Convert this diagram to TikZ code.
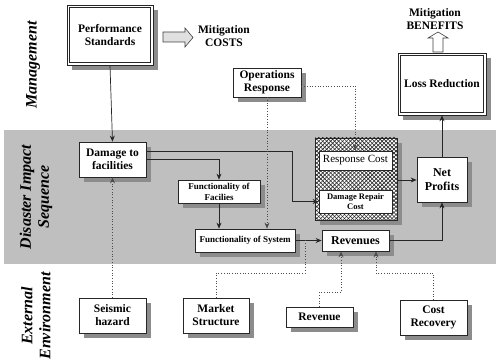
\documentclass[tikz,border=0pt]{standalone}
\usepackage{fontspec}
\setmainfont{Liberation Serif}
\usetikzlibrary{arrows.meta,shadows,patterns.meta,calc}

\begin{document}
\begin{tikzpicture}[x=1pt,y=-1pt,
  shadowed/.style={drop shadow={shadow xshift=5pt,shadow yshift=-5pt,fill=black!45,opacity=1}},
  box/.style={draw=black!85,line width=0.8pt,fill=white,inner sep=1pt,align=center,
    font=\bfseries\fontsize{11.5}{13}\selectfont},
  sbox/.style={box,shadowed},
  dbox/.style={sbox,line width=0.6pt},
  inner frame/.style={draw=black!85,line width=0.9pt},
  smallfont/.style={font=\bfseries\fontsize{9}{11}\selectfont},
  hatchbox/.style={draw=black!85,line width=0.8pt,fill=white,shadowed,
    postaction={pattern={Lines[angle=45,distance=2.8pt,line width=0.6pt]},pattern color=black!85},
    postaction={pattern={Lines[angle=-45,distance=2.8pt,line width=0.6pt]},pattern color=black!85}},
  side/.style={rotate=90,align=center,font=\bfseries\itshape\fontsize{16}{18}\selectfont},
  plain/.style={align=center,font=\bfseries\fontsize{11.5}{13}\selectfont,inner sep=0pt},
  tip/.style={-{Stealth[length=6pt,width=5pt,inset=2pt]}},
  arr/.style={draw=black!85,line width=0.7pt,tip},
  dotarr/.style={draw=black!70,line width=0.7pt,dotted,tip},
  dotline/.style={draw=black!70,line width=0.7pt,dotted},
  blockarrow/.style={draw=black!75,line width=0.6pt,fill=black!12}
]
\useasboundingbox (0,0) rectangle (496,361);

% disaster impact band
\fill[black!25] (4,130) rectangle (496,264);

% row labels
\node[side] (lmgmt) at (33,65) {Management};
\node[side] (ldis) at (36,197) {Disaster Impact\\Sequence};
\node[side] (lext) at (36,316) {External\\Environment};

% management row
\node[dbox,minimum width=86,minimum height=60] (perf) at (110,35) {Performance\\Standards};
\draw[inner frame] ($(perf.north west)+(2.5,2.5)$) rectangle ($(perf.south east)+(-2.5,-2.5)$);
\node[sbox,minimum width=68,minimum height=29] (ops) at (267,82.5) {Operations\\Response};
\node[dbox,minimum width=88,minimum height=62] (loss) at (442,84) {Loss Reduction};
\draw[inner frame] ($(loss.north west)+(2.5,2.5)$) rectangle ($(loss.south east)+(-2.5,-2.5)$);

\draw[blockarrow] (163,32) -- (185,32) -- (185,28) -- (193,37.5) -- (185,47) -- (185,42) -- (163,42) -- cycle;
\node[plain] (mcost) at (224,36) {Mitigation\\COSTS};

\draw[blockarrow,fill=white] (433,52) -- (433,38) -- (428,38) -- (438,32) -- (448,38) -- (443,38) -- (443,52) -- cycle;
\node[plain] (mben) at (435,19) {Mitigation\\BENEFITS};

% disaster impact sequence
\node[sbox,minimum width=67,minimum height=35] (dmg) at (112.5,159.5) {Damage to\\facilities};
\node[sbox,smallfont,minimum width=82,minimum height=23] (ffac) at (219,191.5) {Functionality of\\Facilies};
\node[sbox,smallfont,minimum width=100,minimum height=23] (fsys) at (245,240.5) {Functionality of System};
\node[hatchbox,minimum width=82,minimum height=82] (hatch) at (356,179) {};
\node[box,font=\fontsize{11}{13}\selectfont,minimum width=73,minimum height=19] (rcost) at (355.5,160.5) {Response Cost};
\node[box,font=\bfseries\fontsize{8.5}{10}\selectfont,minimum width=73,minimum height=23] (drc) at (355.5,201.5) {Damage Repair\\Cost};
\node[sbox,font=\bfseries\fontsize{12}{14}\selectfont,minimum width=67,minimum height=21] (rev) at (355.5,240.5) {Revenues};
\node[sbox,font=\bfseries\fontsize{12}{14}\selectfont,minimum width=50,minimum height=45] (net) at (442,179.5) {Net\\Profits};

% external environment
\node[sbox,minimum width=67,minimum height=35] (seis) at (112.5,315.5) {Seismic\\hazard};
\node[sbox,minimum width=66,minimum height=35] (mkt) at (216,315.5) {Market\\Structure};
\node[sbox,minimum width=67,minimum height=20] (revn) at (319.5,317) {Revenue};
\node[sbox,minimum width=67,minimum height=35] (crec) at (433.5,317.5) {Cost\\Recovery};

% solid connectors
\draw[arr] (perf.south) -- (dmg.north);
\draw[arr] (dmg.east |- 0,151) -- (292,151) |- (drc.west);
\draw[arr] (dmg.east |- 0,159) -| (ffac.north);
\draw[arr] (ffac.south) -- (ffac.south |- fsys.north);
\draw[arr] (hatch.east |- 0,180) -- (net.west |- 0,180);
\draw[arr] (net.north) -- (loss.south);
\draw[arr] (rev.east) -| (net.south);
\draw[arr] (fsys.east) -- (rev.west);

% dotted connectors
\draw[dotarr] (ops.south) -- (ops.south |- fsys.north);
\draw[dotarr] (ops.east |- 0,86) -| (rcost.north);
\draw[dotarr] (seis.north) -- (dmg.south);
\draw[dotline] (mkt.north) |- (305,273) -- (305,240);
\draw[dotarr] (revn.north) |- (341,292) -- (rev.south -| 341,0);
\draw[dotarr] (crec.north) |- (376,273) -- (rev.south -| 376,0);
\end{tikzpicture}
\end{document}
